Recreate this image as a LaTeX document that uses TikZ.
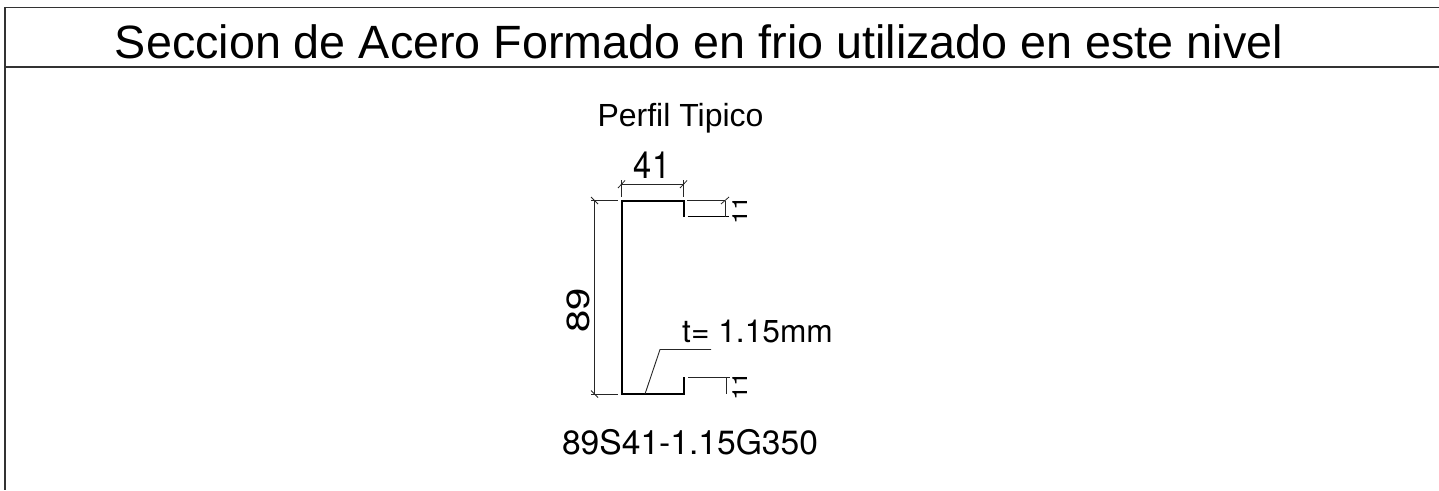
\documentclass[tikz,border=0pt]{standalone}
\usepackage{fontspec}
\setmainfont{Liberation Sans}
\newfontfamily\heros{TeX Gyre Heros}
\tikzset{
 frameline/.style={draw=black!80,line width=1.1pt},
 steel/.style={draw=black,line width=2pt},
 dimline/.style={draw=black!85,line width=.9pt},
 tick/.style={draw=black!85,line width=.8pt},
 lbl/.style={inner sep=0pt,text=black},
}
\begin{document}
\begin{tikzpicture}[x=1pt,y=-1pt]
\useasboundingbox (0,0) rectangle (1439,490);
\coordinate (tl) at (5,7.5); \coordinate (tr) at (1439,7.5);
\coordinate (ml) at (5,67); \coordinate (mr) at (1439,67); \coordinate (bl) at (5,490);
\draw[frameline] (tr) -- (tl) -- (bl);
\draw[frameline] (ml) -- (mr);
\node[lbl,anchor=base,font=\fontsize{46.7}{47}\selectfont] (title) at (699,58.5) {Seccion de Acero Formado en frio utilizado en este nivel};
\node[lbl,anchor=base,font=\fontsize{32}{32}\selectfont] (perfil) at (680.5,126) {Perfil Tipico};
\node[lbl,font=\heros\fontsize{37.5}{38}\selectfont,xscale=.87] (w) at (652,165.5) {41};
\node[lbl,font=\heros\fontsize{40}{40}\selectfont,xscale=.8,rotate=90] (h) at (578,310.5) {89};
\node[lbl,anchor=base,font=\heros\fontsize{31.7}{32}\selectfont] (t) at (757.5,342) {t= 1.15mm};
\node[lbl,anchor=base,font=\heros\fontsize{33.6}{34}\selectfont] (name) at (690,454) {89S41-1.15G350};
\node[lbl,font=\heros\fontsize{26}{26}\selectfont,xscale=.8,rotate=90] (a) at (740,210.5) {11};
\node[lbl,font=\heros\fontsize{26}{26}\selectfont,xscale=.8,rotate=90] (b) at (740,386) {11};
% section
\coordinate (s1) at (684,216.5); \coordinate (s2) at (684,200.5); \coordinate (s3) at (621.5,200.5);
\coordinate (s4) at (621.5,394); \coordinate (s5) at (684,394); \coordinate (s6) at (684,377);
\draw[steel,line cap=butt,line join=miter] (s1) -- (s2) -- (s3) -- (s4) -- (s5) -- (s6);
\coordinate (l1) at (687.5,216.7); \coordinate (l2) at (729,216.7);
\draw[black,line width=1.5pt] (l1) -- (l2);
% width dim
\coordinate (wa) at (621.5,184); \coordinate (wb) at (683.5,184);
\draw[dimline] (wa) -- (wb);
\draw[dimline] (621.5,180) -- (621.5,197);
\draw[dimline] (683.5,180) -- (683.5,197);
\draw[tick] (618,188) -- (625,180.5);
\draw[tick] (680,188) -- (687,180.5);
% height dim
\coordinate (ha) at (594.5,200.5); \coordinate (hb) at (594.5,394);
\draw[dimline] (ha) -- (hb);
\draw[dimline] (591,200.5) -- (618,200.5);
\draw[dimline] (591,394) -- (618,394);
\draw[tick] (591,197) -- (598,204);
\draw[tick] (591,390.5) -- (598,397.5);
% lip dim top
\coordinate (ua) at (725,200.5); \coordinate (ub) at (725,216.5);
\draw[dimline] (ua) -- (ub);
\draw[dimline] (687,200.5) -- (725,200.5);
\draw[tick] (721,204) -- (729,197);
% lip dim bottom
\coordinate (va) at (726,377); \coordinate (vb) at (726,394);
\draw[dimline] (va) -- (vb);
\draw[dimline] (688,377) -- (730,377);
% leader
\coordinate (p0) at (645,394); \coordinate (p1) at (660,349.5); \coordinate (p2) at (711,349.5);
\draw[dimline] (p0) -- (p1) -- (p2);
\end{tikzpicture}
\end{document}
